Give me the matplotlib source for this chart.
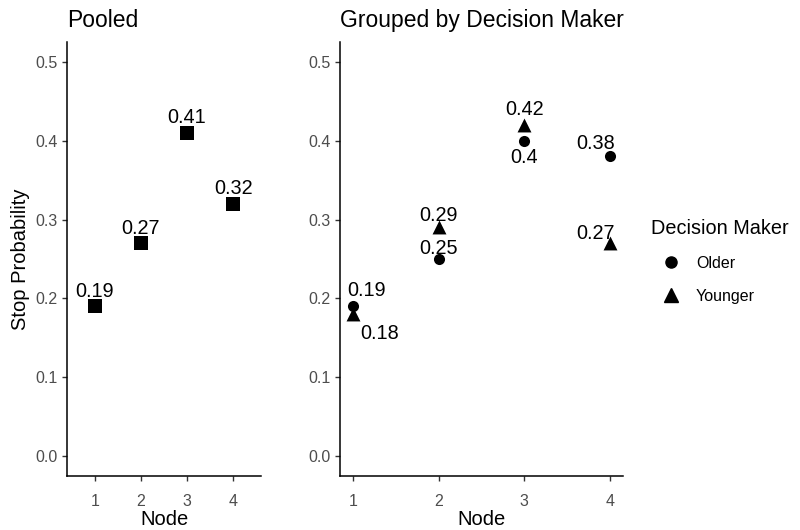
import numpy as np
import matplotlib.pyplot as plt
from matplotlib.lines import Line2D

plt.rcParams['font.family'] = ['Liberation Sans', 'DejaVu Sans']

# datos
nodes = [1, 2, 3, 4]
pooled = [0.19, 0.27, 0.41, 0.32]
older = [0.19, 0.25, 0.40, 0.38]
younger = [0.18, 0.29, 0.42, 0.27]
yticks = [0.0, 0.1, 0.2, 0.3, 0.4, 0.5]

# desplazamiento de etiquetas (pixeles)
off_pooled = [(0, 15)] * 4
off_older = [(14, 16), (0, 11), (0, -17), (-15, 13)]
off_younger = [(27, -19), (0, 12), (0, 15), (-15, 10)]

grey = '#4D4D4D'

fig = plt.figure(figsize=(8, 5.3), dpi=100)
ax0 = fig.add_axes([67/800, 54/530, 194/800, 434/530])
ax1 = fig.add_axes([340/800, 54/530, 283/800, 434/530])

def style(ax):
    for s in ['top', 'right']:
        ax.spines[s].set_visible(False)
    for s in ['left', 'bottom']:
        ax.spines[s].set_linewidth(1.1)
        ax.spines[s].set_color('black')
    ax.set_ylim(-0.025, 0.525)
    ax.set_yticks(yticks)
    ax.set_yticklabels([f'{v:.1f}' for v in yticks])
    ax.set_xticks(nodes)
    ax.tick_params(colors='#333333', labelcolor=grey, labelsize=11.5, length=3.8, width=1)
    ax.tick_params(axis='x', pad=9)
    ax.tick_params(axis='y', pad=3)
    ax.set_xlabel('Node', fontsize=14.5, labelpad=1)

def label(ax, xs, ys, offs):
    for x, y, o in zip(xs, ys, offs):
        ax.annotate(f'{y:g}', (x, y), xytext=o, textcoords='offset pixels',
                    ha='center', va='center', fontsize=14.3)

# panel agrupado
ax0.scatter(nodes, pooled, marker='s', s=100, color='black', linewidths=0)
label(ax0, nodes, pooled, off_pooled)
ax0.set_xlim(0.4, 4.6)
style(ax0)
ax0.set_ylabel('Stop Probability', fontsize=14.5, labelpad=4)
ax0.set_title('Pooled', loc='left', fontsize=16.5, pad=11)

# panel por tomador de decisiones
ax1.scatter(nodes, older, marker='o', s=64, color='black', linewidths=0)
ax1.scatter(nodes, younger, marker='^', s=100, color='black', linewidths=0)
label(ax1, nodes, older, off_older)
label(ax1, nodes, younger, off_younger)
ax1.set_xlim(0.85, 4.15)
style(ax1)
ax1.set_title('Grouped by Decision Maker', loc='left', fontsize=16.5, pad=11)

handles = [Line2D([], [], marker='o', ls='', color='black', ms=8),
           Line2D([], [], marker='^', ls='', color='black', ms=10)]
leg = fig.legend(handles, ['Older', 'Younger'], title='Decision Maker',
                 loc='upper left', bbox_to_anchor=(637/800, 325/530),
                 frameon=False, fontsize=11.5, title_fontsize=14.3,
                 handletextpad=0.3, labelspacing=1.1, handlelength=2.5)
leg._legend_box.align = 'left'

fig.savefig('out.png', dpi=100)
